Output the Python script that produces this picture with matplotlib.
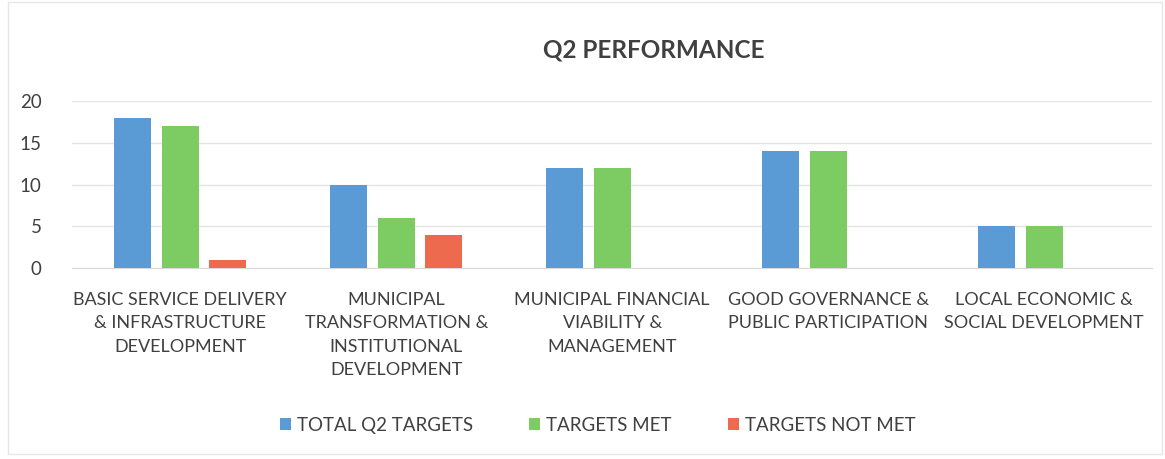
import matplotlib
matplotlib.use("Agg")
import matplotlib.pyplot as plt
import numpy as np
from matplotlib.patches import Rectangle

categories = ["BASIC SERVICE DELIVERY\n& INFRASTRUCTURE\nDEVELOPMENT",
              "MUNICIPAL\nTRANSFORMATION &\nINSTITUTIONAL\nDEVELOPMENT",
              "MUNICIPAL FINANCIAL\nVIABILITY &\nMANAGEMENT",
              "GOOD GOVERNANCE &\nPUBLIC PARTICIPATION",
              "LOCAL ECONOMIC &\nSOCIAL DEVELOPMENT"]
series_names = ["TOTAL Q2 TARGETS", "TARGETS MET", "TARGETS NOT MET"]
total_targets = [18, 10, 12, 14, 5]
targets_met = [17, 6, 12, 14, 5]
targets_not_met = [1, 4, 0, 0, 0]
yticks = [0, 5, 10, 15, 20]

colors = ["#5B9BD5", "#7DCB63", "#EE6A4E"]
txt = "#404040"
plt.rcParams['font.family'] = ['Lato', 'DejaVu Sans']

fig = plt.figure(figsize=(11.65, 4.59), dpi=100)
ax = fig.add_axes([0.062, 0.416, 0.927, 0.364])
x = np.arange(len(categories))
w = 0.17
step = 0.22
for i, (vals, c, n) in enumerate(zip([total_targets, targets_met, targets_not_met], colors, series_names)):
    ax.bar(x + (i - 1) * step, vals, width=w, color=c, label=n, zorder=3)

ax.set_xlim(-0.5, len(categories) - 0.5)
ax.set_ylim(0, 20)
ax.set_yticks(yticks)
ax.yaxis.grid(True, color="#E4E4E4", linewidth=1, zorder=0)
for s in ax.spines.values():
    s.set_visible(False)
ax.spines['bottom'].set_visible(True)
ax.spines['bottom'].set_color("#D9D9D9")
ax.tick_params(axis='both', length=0, colors=txt)
ax.tick_params(axis='y', labelsize=13.5, pad=22)
ax.set_xticks(x)
ax.set_xticklabels(categories, fontsize=13, color=txt, linespacing=1.58)
ax.tick_params(axis='x', pad=17)

fig.text(0.561, 0.89, "Q2 PERFORMANCE", ha='center', va='center', fontsize=17.5,
         fontweight='bold', color=txt)
fig.legend(loc='center', bbox_to_anchor=(0.513, 0.073), ncol=3, frameon=False,
           fontsize=13.5, handlelength=0.6, handleheight=0.6, columnspacing=3.0,
           handletextpad=0.3, labelcolor=txt)
fig.patches.append(Rectangle((0.007, 0.01), 0.99, 0.985, transform=fig.transFigure,
                             fill=False, edgecolor="#E6E6E6", linewidth=1))
fig.savefig("out.png", dpi=100)
